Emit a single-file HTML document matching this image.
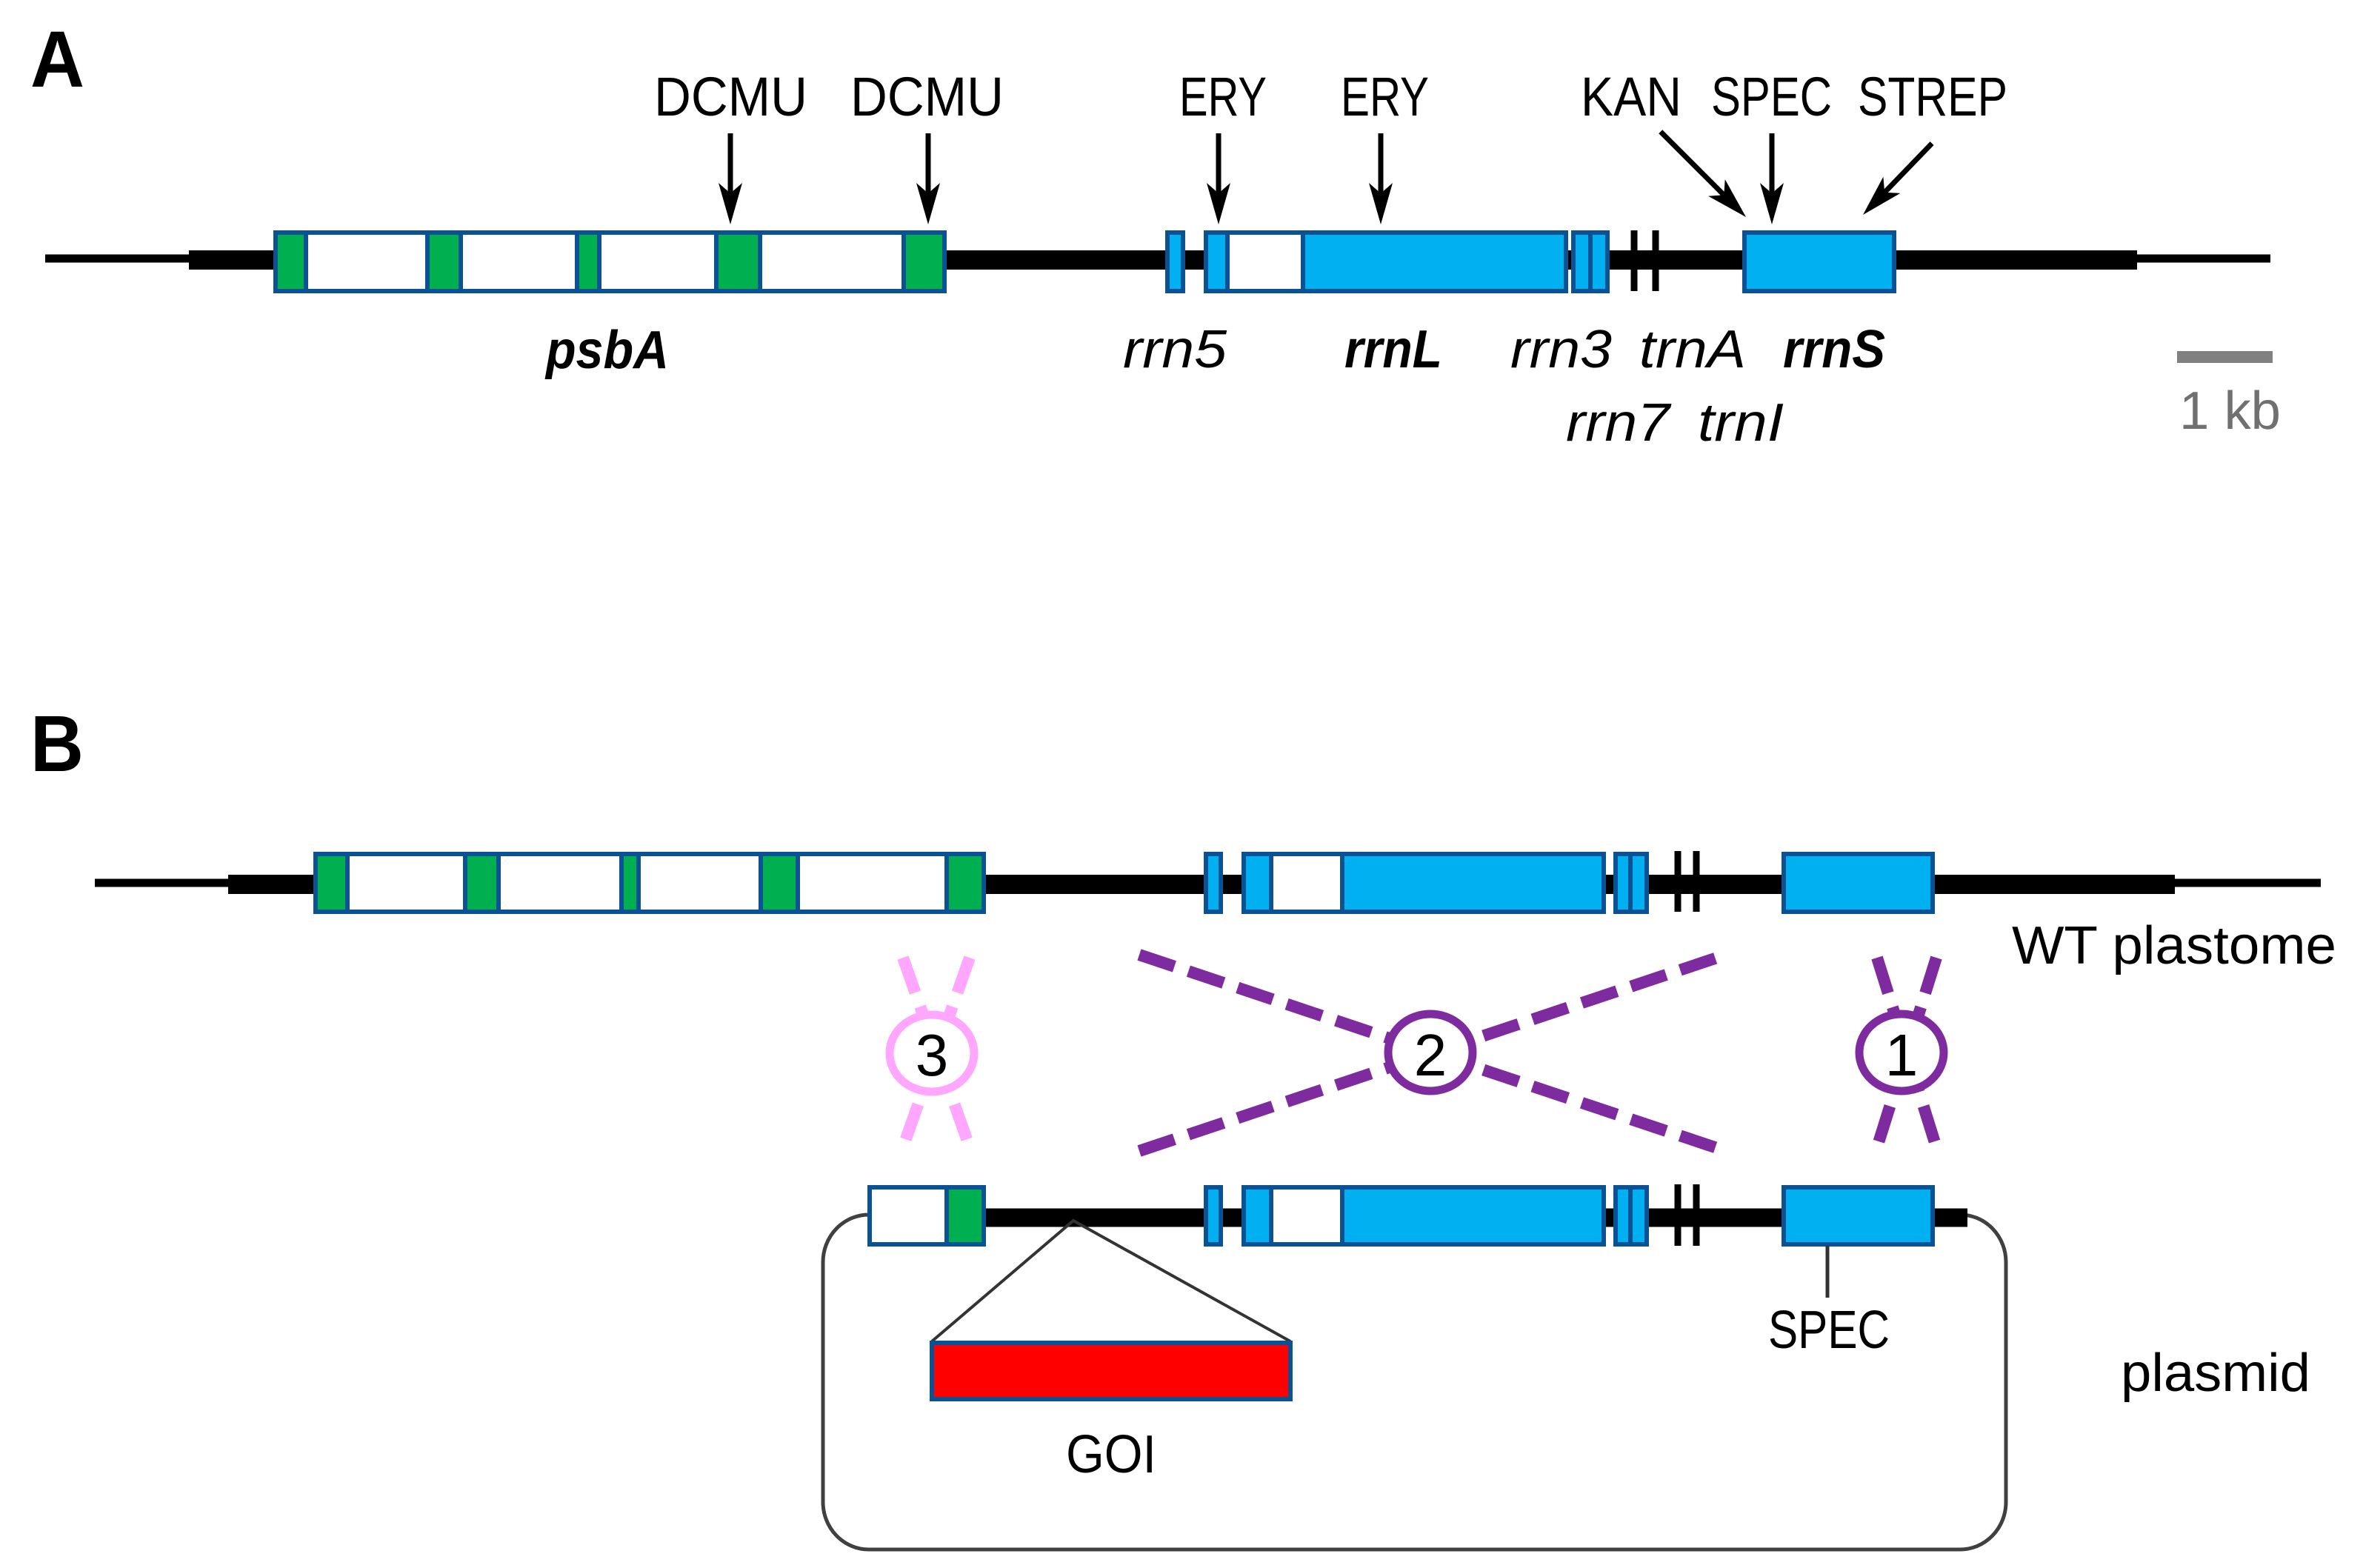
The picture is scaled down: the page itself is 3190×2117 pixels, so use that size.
<!DOCTYPE html>
<html><head><meta charset="utf-8"><style>html,body{margin:0;padding:0;background:#fff}svg{display:block}</style></head>
<body>
<svg width="3190" height="2117" viewBox="0 0 3190 2117" xmlns="http://www.w3.org/2000/svg" font-family="Liberation Sans, sans-serif">
<defs>
<g id="arr"><line x1="0" y1="-123" x2="0" y2="-40" stroke="#000" stroke-width="7"/><polygon points="0,0 -16,-56 0,-42 16,-56" fill="#000"/></g>
</defs>
<!-- Panel A -->
<text x="41" y="117" font-size="108" font-weight="bold" textLength="73" lengthAdjust="spacingAndGlyphs">A</text>
<line x1="61" y1="349" x2="260" y2="349" stroke="#000" stroke-width="11"/>
<line x1="255" y1="351" x2="2885" y2="351" stroke="#000" stroke-width="26"/>
<line x1="2880" y1="349" x2="3065" y2="349" stroke="#000" stroke-width="11"/>
<g stroke="#0A5294" stroke-width="6">
<rect x="372" y="314" width="903" height="79" fill="#fff"/>
<rect x="372" y="314" width="41" height="79" fill="#00B050"/>
<rect x="577" y="314" width="45" height="79" fill="#00B050"/>
<rect x="779" y="314" width="30" height="79" fill="#00B050"/>
<rect x="967" y="314" width="59" height="79" fill="#00B050"/>
<rect x="1220" y="314" width="55" height="79" fill="#00B050"/>
<rect x="1576" y="314" width="21" height="79" fill="#00B0F0"/>
<rect x="1628" y="314" width="486" height="79" fill="#00B0F0"/>
<rect x="1657" y="314" width="102" height="79" fill="#fff"/>
<rect x="2124" y="314" width="46" height="79" fill="#00B0F0"/>
<line x1="2147" y1="314" x2="2147" y2="393"/>
<rect x="2355" y="314" width="202" height="79" fill="#00B0F0"/>
</g>
<line x1="2206" y1="311" x2="2206" y2="393" stroke="#000" stroke-width="9"/>
<line x1="2235" y1="311" x2="2235" y2="393" stroke="#000" stroke-width="9"/>
<use href="#arr" transform="translate(986,303)"/>
<use href="#arr" transform="translate(1253,303)"/>
<use href="#arr" transform="translate(1645,303)"/>
<use href="#arr" transform="translate(1864,303)"/>
<use href="#arr" transform="translate(2392,303)"/>
<g transform="translate(2357,293) rotate(-45)"><line x1="0" y1="-163" x2="0" y2="-40" stroke="#000" stroke-width="7"/><polygon points="0,0 -16,-56 0,-42 16,-56" fill="#000"/></g>
<g transform="translate(2515,290) rotate(44)"><line x1="0" y1="-134" x2="0" y2="-40" stroke="#000" stroke-width="7"/><polygon points="0,0 -16,-56 0,-42 16,-56" fill="#000"/></g>
<g font-size="74">
<text x="883" y="156" textLength="207" lengthAdjust="spacingAndGlyphs">DCMU</text>
<text x="1148" y="156" textLength="207" lengthAdjust="spacingAndGlyphs">DCMU</text>
<text x="1592" y="156" textLength="118" lengthAdjust="spacingAndGlyphs">ERY</text>
<text x="1810" y="156" textLength="119" lengthAdjust="spacingAndGlyphs">ERY</text>
<text x="2134" y="156" textLength="136" lengthAdjust="spacingAndGlyphs">KAN</text>
<text x="2310" y="156" textLength="163" lengthAdjust="spacingAndGlyphs">SPEC</text>
<text x="2508" y="156" textLength="202" lengthAdjust="spacingAndGlyphs">STREP</text>
</g>
<g font-size="72" font-style="italic">
<text x="737" y="497" font-weight="bold" textLength="166" lengthAdjust="spacingAndGlyphs">psbA</text>
<text x="1516" y="496" textLength="140" lengthAdjust="spacingAndGlyphs">rrn5</text>
<text x="1815" y="496" font-weight="bold" textLength="132" lengthAdjust="spacingAndGlyphs">rrnL</text>
<text x="2039" y="496" textLength="137" lengthAdjust="spacingAndGlyphs">rrn3</text>
<text x="2213" y="496" textLength="144" lengthAdjust="spacingAndGlyphs">trnA</text>
<text x="2407" y="496" font-weight="bold" textLength="138" lengthAdjust="spacingAndGlyphs">rrnS</text>
<text x="2114" y="595" textLength="140" lengthAdjust="spacingAndGlyphs">rrn7</text>
<text x="2292" y="595" textLength="116" lengthAdjust="spacingAndGlyphs">trnI</text>
</g>
<rect x="2939" y="474" width="129" height="16" fill="#808080"/>
<text x="2942" y="579" font-size="72" fill="#707070" textLength="137" lengthAdjust="spacingAndGlyphs">1 kb</text>

<!-- Panel B -->
<text x="41" y="1041" font-size="108" font-weight="bold" textLength="72" lengthAdjust="spacingAndGlyphs">B</text>
<line x1="128" y1="1192" x2="312" y2="1192" stroke="#000" stroke-width="11"/>
<line x1="308" y1="1194" x2="2936" y2="1194" stroke="#000" stroke-width="26"/>
<line x1="2930" y1="1192" x2="3133" y2="1192" stroke="#000" stroke-width="11"/>
<g stroke="#0A5294" stroke-width="6">
<rect x="426" y="1153" width="902" height="78" fill="#fff"/>
<rect x="426" y="1153" width="43" height="78" fill="#00B050"/>
<rect x="628" y="1153" width="45" height="78" fill="#00B050"/>
<rect x="839" y="1153" width="23" height="78" fill="#00B050"/>
<rect x="1027" y="1153" width="50" height="78" fill="#00B050"/>
<rect x="1278" y="1153" width="50" height="78" fill="#00B050"/>
<rect x="1628" y="1153" width="20" height="78" fill="#00B0F0"/>
<rect x="1679" y="1153" width="486" height="78" fill="#00B0F0"/>
<rect x="1716" y="1153" width="96" height="78" fill="#fff"/>
<rect x="2181" y="1153" width="42" height="78" fill="#00B0F0"/>
<line x1="2201" y1="1153" x2="2201" y2="1231"/>
<rect x="2408" y="1153" width="201" height="78" fill="#00B0F0"/>
</g>
<line x1="2265" y1="1149" x2="2265" y2="1231" stroke="#000" stroke-width="9"/>
<line x1="2290" y1="1149" x2="2290" y2="1231" stroke="#000" stroke-width="9"/>
<text x="2716" y="1301" font-size="72" textLength="438" lengthAdjust="spacingAndGlyphs">WT plastome</text>

<!-- crossovers -->
<g stroke-width="16" stroke-dasharray="50,20" fill="none">
<line x1="1219" y1="1293" x2="1309" y2="1549" stroke="#FFA6FF"/>
<line x1="1309" y1="1293" x2="1219" y2="1549" stroke="#FFA6FF"/>
<line x1="1538" y1="1289" x2="2330" y2="1554" stroke="#7F2BA0"/>
<line x1="1538" y1="1554" x2="2330" y2="1289" stroke="#7F2BA0"/>
<line x1="2534" y1="1293" x2="2614" y2="1549" stroke="#7F2BA0"/>
<line x1="2614" y1="1293" x2="2534" y2="1549" stroke="#7F2BA0"/>
</g>
<ellipse cx="1258" cy="1422" rx="57" ry="52" fill="#fff" stroke="#FFA6FF" stroke-width="11"/>
<ellipse cx="1931" cy="1421" rx="57" ry="52" fill="#fff" stroke="#7F2BA0" stroke-width="11"/>
<ellipse cx="2567" cy="1421" rx="57" ry="52" fill="#fff" stroke="#7F2BA0" stroke-width="11"/>
<g font-size="80" text-anchor="middle">
<text x="1258" y="1452">3</text>
<text x="1931" y="1452">2</text>
<text x="2567" y="1452">1</text>
</g>

<!-- plasmid -->
<rect x="1111" y="1640" width="1597" height="452" rx="62" ry="64" fill="none" stroke="#404040" stroke-width="5"/>
<line x1="1330" y1="1644" x2="2656" y2="1644" stroke="#000" stroke-width="25"/>
<g stroke="#0A5294" stroke-width="6">
<rect x="1174" y="1603" width="154" height="77" fill="#fff"/>
<rect x="1278" y="1603" width="50" height="77" fill="#00B050"/>
<rect x="1628" y="1603" width="20" height="77" fill="#00B0F0"/>
<rect x="1679" y="1603" width="486" height="77" fill="#00B0F0"/>
<rect x="1716" y="1603" width="96" height="77" fill="#fff"/>
<rect x="2181" y="1603" width="42" height="77" fill="#00B0F0"/>
<line x1="2201" y1="1603" x2="2201" y2="1680"/>
<rect x="2408" y="1603" width="201" height="77" fill="#00B0F0"/>
</g>
<line x1="2265" y1="1599" x2="2265" y2="1682" stroke="#000" stroke-width="9"/>
<line x1="2290" y1="1599" x2="2290" y2="1682" stroke="#000" stroke-width="9"/>
<polyline points="1258,1811 1449,1648 1742,1811" fill="none" stroke="#333" stroke-width="4"/>
<rect x="1258" y="1813" width="484" height="76" fill="#FF0000" stroke="#0A5294" stroke-width="6"/>
<line x1="2467" y1="1682" x2="2467" y2="1752" stroke="#333" stroke-width="5"/>
<g font-size="72">
<text x="1439" y="1988" textLength="122" lengthAdjust="spacingAndGlyphs">GOI</text>
<text x="2387" y="1820" textLength="164" lengthAdjust="spacingAndGlyphs">SPEC</text>
<text x="2863" y="1878" textLength="256" lengthAdjust="spacingAndGlyphs">plasmid</text>
</g>
</svg>
</body></html>
